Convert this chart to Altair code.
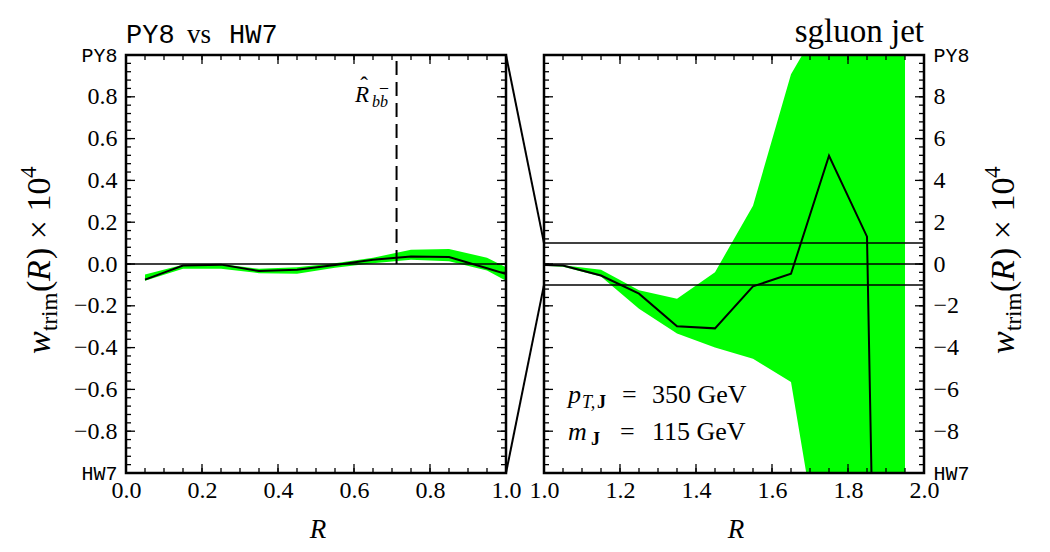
import altair as alt
import numpy as np
import pandas as pd

# Bin centres in R and the trimmed weight w_trim(R) x 10^4 (central value and envelope)
R_CENTRES = [0.05, 0.15, 0.25, 0.35, 0.45, 0.55, 0.65, 0.75, 0.85, 0.95,
             1.05, 1.15, 1.25, 1.35, 1.45, 1.55, 1.65, 1.75, 1.85, 1.95]
W_CENTRAL = [-0.075, -0.007, -0.003, -0.034, -0.028, -0.005, 0.020, 0.036, 0.033, -0.020,
             -0.075, -0.55, -1.42, -2.98, -3.08, -1.07, -0.47, 5.18, 1.31, -95.0]
W_HIGH = [-0.050, -0.003, 0.000, -0.023, -0.015, 0.004, 0.030, 0.068, 0.072, 0.030,
          -0.060, -0.28, -1.25, -1.66, -0.39, 2.79, 9.08, 12.2, 25.0, 30.0]
W_LOW = [-0.080, -0.023, -0.023, -0.044, -0.047, -0.018, 0.004, 0.020, 0.013, -0.031,
         -0.130, -0.60, -2.14, -3.33, -4.00, -4.53, -5.64, -16.5, -30.0, -30.0]

R_BB = 0.712            # position of the R_bb marker
ZOOM = 10               # the right panel's y range is ten times the left one's
RIGHT_LEVELS = [-1, 0, 1]

W, H = 380, 418
GAP = 38
SERIF = "Liberation Serif"
MONO = "Liberation Mono"
GREEN = "#00ff00"

df = pd.DataFrame({"R": R_CENTRES, "w": W_CENTRAL, "lo": W_LOW, "hi": W_HIGH})
one = pd.DataFrame({"k": [0]})


def steps(a, b, step):
    n = int(round((b - a) / step))
    return [round(a + i * step, 4) for i in range(n + 1)]


def make_axes(xdom, ydom, yorient, ymax, yfmt):
    xs = alt.Scale(domain=xdom, nice=False, zero=False)
    ys = alt.Scale(domain=ydom, nice=False, zero=False)
    xa = alt.Axis(values=steps(xdom[0], xdom[1], 0.2), format=".1f", title=None,
                  labelFont=SERIF, labelFontSize=24, labelColor="black",
                  labelPadding=5, labelFlush=False, labelOverlap=False,
                  ticks=False, tickSize=0, domain=False, grid=False)
    edge = f"abs(datum.value) > {ymax * 0.99}"
    ya = alt.Axis(values=steps(ydom[0], ydom[1], ymax / 5), orient=yorient, title=None,
                  labelExpr=(f"datum.value > {ymax * 0.99} ? 'PY8' : "
                             f"datum.value < {-ymax * 0.99} ? 'HW7' : "
                             f"replace(format(datum.value, '{yfmt}'), '-', '\u2212')"),
                  labelFont={"condition": {"test": edge, "value": MONO}, "value": SERIF},
                  labelFontSize={"condition": {"test": edge, "value": 20}, "value": 24},
                  labelColor="black", labelPadding=9, labelOverlap=False,
                  labelFlush=False, ticks=False, tickSize=0, domain=False, grid=False)
    return xs, ys, xa, ya


def tick_layers(xs, ys, xa, ya, xdom, ydom, ymaj, ymin):
    layers = []
    for vals, ln in ((steps(xdom[0], xdom[1], 0.2), 9), (steps(xdom[0], xdom[1], 0.05), 5)):
        base = alt.Chart(pd.DataFrame({"v": vals})).mark_rule(color="black", strokeWidth=1.3)
        xe = alt.X("v:Q", scale=xs, axis=xa)
        layers.append(base.encode(x=xe, y=alt.value(0), y2=alt.value(ln)))
        layers.append(base.encode(x=xe, y=alt.value(H - ln), y2=alt.value(H)))
    for vals, ln in ((steps(ydom[0], ydom[1], ymaj), 9), (steps(ydom[0], ydom[1], ymin), 5)):
        base = alt.Chart(pd.DataFrame({"v": vals})).mark_rule(color="black", strokeWidth=1.3)
        ye = alt.Y("v:Q", scale=ys, axis=ya)
        layers.append(base.encode(y=ye, x=alt.value(0), x2=alt.value(ln)))
        layers.append(base.encode(y=ye, x=alt.value(W - ln), x2=alt.value(W)))
    return layers


def txt(text, x, y, size, font=SERIF, style="normal", weight="normal", align="left", angle=0):
    return alt.Chart(one).mark_text(
        text=text, font=font, fontSize=size, fontStyle=style, fontWeight=weight,
        align=align, baseline="alphabetic", angle=angle, color="black"
    ).encode(x=alt.value(x), y=alt.value(y))


def ytitle(xb):
    # w_trim(R) x 10^4, read bottom to top
    y0 = 299
    return [
        txt("w", xb, y0, 34, style="italic", angle=270),
        txt("trim", xb + 7, y0 - 23, 23, angle=270),
        txt("(", xb, y0 - 62, 34, angle=270),
        txt("R", xb, y0 - 73, 34, style="italic", angle=270),
        txt(") \u00d7 10", xb, y0 - 95, 34, angle=270),
        txt("4", xb - 14, y0 - 176, 23, angle=270),
    ]


def frame():
    return alt.Chart(one).mark_rect(fillOpacity=0, stroke="black", strokeWidth=2.5).encode(
        x=alt.value(0), x2=alt.value(W), y=alt.value(0), y2=alt.value(H))


# ---------- left panel: 0 < R < 1 ----------
xsL, ysL, xaL, yaL = make_axes([0.0, 1.0], [-1.0, 1.0], "left", 1.0, ".1f")
xL = alt.X("R:Q", scale=xsL, axis=xaL)

left_layers = [
    alt.Chart(one).mark_rect(opacity=0).encode(
        x=alt.value(-126), x2=alt.value(924), y=alt.value(-55), y2=alt.value(497)),
    alt.Chart(df).mark_area(color=GREEN, clip=True).encode(
        x=xL, y=alt.Y("lo:Q", scale=ysL, axis=yaL), y2="hi:Q"),
    alt.Chart(one).mark_rule(color="black", strokeWidth=1.5).encode(
        y=alt.YDatum(0, scale=ysL, axis=yaL)),
    alt.Chart(df).mark_line(color="black", strokeWidth=2, clip=True).encode(
        x=xL, y=alt.Y("w:Q", scale=ysL, axis=yaL)),
    alt.Chart(one).mark_rule(color="black", strokeWidth=2, strokeDash=[14, 7]).encode(
        x=alt.XDatum(R_BB, scale=xsL, axis=xaL),
        y=alt.YDatum(0, scale=ysL, axis=yaL), y2=alt.datum(1)),
    # lines tying the full left range to the +-1 band of the right panel
    alt.Chart(one).mark_rule(color="black", strokeWidth=2).encode(
        x=alt.XDatum(1.0, scale=xsL, axis=xaL), x2=alt.datum(1.0 + GAP / W),
        y=alt.YDatum(1.0, scale=ysL, axis=yaL), y2=alt.datum(1.0 / ZOOM)),
    alt.Chart(one).mark_rule(color="black", strokeWidth=2).encode(
        x=alt.XDatum(1.0, scale=xsL, axis=xaL), x2=alt.datum(1.0 + GAP / W),
        y=alt.YDatum(-1.0, scale=ysL, axis=yaL), y2=alt.datum(-1.0 / ZOOM)),
]
left_layers += tick_layers(xsL, ysL, xaL, yaL, [0.0, 1.0], [-1.0, 1.0], 0.2, 0.04)
left_layers += [
    frame(),
    txt("PY8", 0, -12, 27, font=MONO),
    txt("vs", 61, -12, 27),
    txt("HW7", 103, -12, 27, font=MONO),
    txt("R", 229, 47, 23, style="italic"),
    txt("\u02c6", 238, 38, 23, align="center"),
    txt("b", 246, 52, 16, style="italic"),
    txt("b", 254, 52, 16, style="italic"),
    txt("\u00af", 258, 46, 16, align="center"),
    txt("R", W / 2 + 2, 483, 27, style="italic", align="center"),
] + ytitle(-76)

left = alt.layer(*left_layers).properties(width=W, height=H)

# ---------- right panel: 1 < R < 2 ----------
xsR, ysR, xaR, yaR = make_axes([1.0, 2.0], [-10.0, 10.0], "right", 10.0, "d")
xR = alt.X("R:Q", scale=xsR, axis=xaR)

right_layers = [
    alt.Chart(df).mark_area(color=GREEN, clip=True).encode(
        x=xR, y=alt.Y("lo:Q", scale=ysR, axis=yaR), y2="hi:Q"),
    alt.Chart(pd.DataFrame({"lvl": RIGHT_LEVELS})).mark_rule(color="black", strokeWidth=1.5).encode(
        y=alt.Y("lvl:Q", scale=ysR, axis=yaR)),
    alt.Chart(df).mark_line(color="black", strokeWidth=2, clip=True).encode(
        x=xR, y=alt.Y("w:Q", scale=ysR, axis=yaR)),
]
right_layers += tick_layers(xsR, ysR, xaR, yaR, [1.0, 2.0], [-10.0, 10.0], 2.0, 0.4)
right_layers += [
    frame(),
    txt("sgluon jet", W, -13, 33, align="right"),
    txt("p", 24, 348, 26, style="italic"),
    txt("T,", 38, 353, 18, style="italic"),
    txt("J", 53, 353, 18, weight="bold"),
    txt("=", 78, 348, 26),
    txt("350 GeV", 108, 348, 26),
    txt("m", 24, 385, 26, style="italic"),
    txt("J", 47, 390, 18, weight="bold"),
    txt("=", 76, 385, 26),
    txt("115 GeV", 108, 385, 26),
    txt("R", W / 2 + 2, 483, 27, style="italic", align="center"),
] + ytitle(470)

right = alt.layer(*right_layers).properties(width=W, height=H)

chart = (
    alt.hconcat(left, right, spacing=GAP, bounds="flush", padding=0)
    .configure_view(strokeWidth=0)
    .configure_axis(labelFont=SERIF, labelFontSize=24)
)

chart.save("out.html", embed_options={"renderer": "svg", "actions": False})
